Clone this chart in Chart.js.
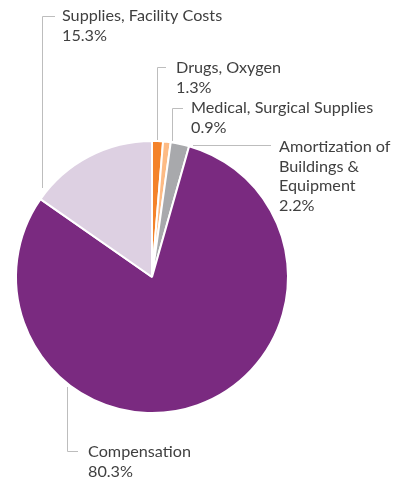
<!DOCTYPE html>
<html>
<head>
<meta charset="utf-8">
<script src="https://cdn.jsdelivr.net/npm/chart.js@4"></script>
<style>
  html, body { margin: 0; padding: 0; background: #fff; }
  #wrap { position: relative; width: 407px; height: 483px; }
</style>
</head>
<body>
<div id="wrap"><canvas id="pie"></canvas></div>
<script>
const categories = [
  "Drugs, Oxygen",
  "Medical, Surgical Supplies",
  "Amortization of Buildings & Equipment",
  "Compensation",
  "Supplies, Facility Costs"
];
const shares = [1.3, 0.9, 2.2, 80.3, 15.3];
const sliceColors = ["#f4822a", "#fdbb85", "#a8a9ac", "#7a2a80", "#ddd0e2"];

// label text lines, position of first line, and leader polyline (layout only)
const labelLines = [
  ["Drugs, Oxygen", "1.3%"],
  ["Medical, Surgical Supplies", "0.9%"],
  ["Amortization of", "Buildings &", "Equipment", "2.2%"],
  ["Compensation", "80.3%"],
  ["Supplies, Facility Costs", "15.3%"]
];
const labelPos = [[176, 68], [191, 108], [279, 147], [88, 452], [62, 16]];
const leaders = [
  [[166, 67.5], [157.5, 67.5], [157.5, 140]],
  [[183, 108.5], [172.5, 108.5], [172.5, 141]],
  [[271, 145.5], [193, 145.5]],
  [[78, 451.5], [67.5, 451.5], [67.5, 387]],
  [[55, 16.5], [42.5, 16.5], [42.5, 188]]
];

const calloutPlugin = {
  id: "callouts",
  afterDraw(chart) {
    const ctx = chart.ctx;
    ctx.save();
    ctx.strokeStyle = "#bdbdbd";
    ctx.lineWidth = 1;
    leaders.forEach(pts => {
      ctx.beginPath();
      pts.forEach((p, i) => i ? ctx.lineTo(p[0], p[1]) : ctx.moveTo(p[0], p[1]));
      ctx.stroke();
    });
    ctx.fillStyle = "#404040";
    ctx.font = "16.2px Lato";
    ctx.textBaseline = "middle";
    ctx.textAlign = "left";
    labelLines.forEach((lines, i) => {
      lines.forEach((t, j) => ctx.fillText(t, labelPos[i][0], labelPos[i][1] + j * 19.6));
    });
    ctx.restore();
  }
};

new Chart(document.getElementById("pie"), {
  type: "pie",
  data: {
    labels: categories,
    datasets: [{
      data: shares,
      backgroundColor: sliceColors,
      borderColor: "#ffffff",
      borderWidth: 2,
      hoverOffset: 0
    }]
  },
  options: {
    responsive: true,
    maintainAspectRatio: false,
    animation: false,
    layout: { padding: { left: 15, right: 118, top: 140, bottom: 69 } },
    plugins: {
      legend: { display: false },
      tooltip: { enabled: false }
    }
  },
  plugins: [calloutPlugin]
});
</script>
</body>
</html>
